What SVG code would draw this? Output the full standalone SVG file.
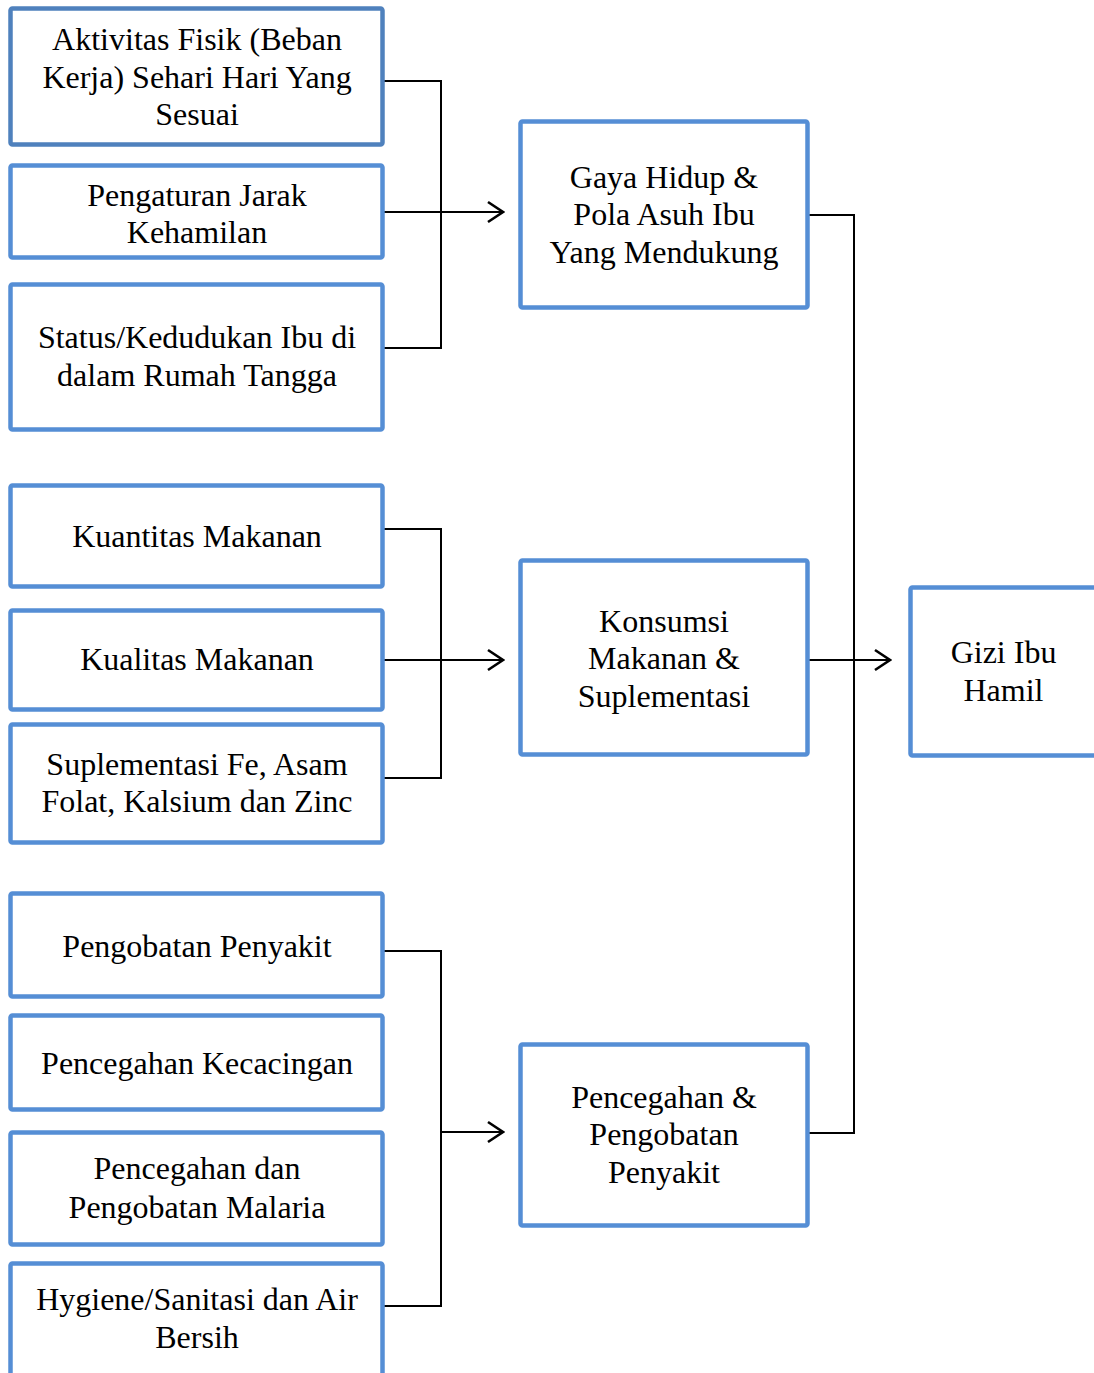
<svg xmlns="http://www.w3.org/2000/svg" width="1094" height="1373" viewBox="0 0 1094 1373">
<style>
.box{fill:#ffffff;stroke:#558ED5;stroke-width:4.5}
.dark{stroke:#4F81BD}
.t{font-family:"Liberation Serif","Times New Roman",serif;font-size:32px;fill:#000;text-anchor:middle}
.c{fill:none;stroke:#000;stroke-width:2}
</style>
<defs>
<marker id="ah" markerUnits="userSpaceOnUse" viewBox="-18 -12 20 24" markerWidth="20" markerHeight="24" refX="0" refY="0" orient="auto">
<path d="M-15,-10 L0,0 L-15,10" fill="none" stroke="#000" stroke-width="2.6"/>
</marker>
</defs>
<rect width="1094" height="1373" fill="#ffffff"/>
<g id="connectors">
<path class="c" d="M384,81 H441 V348 H384"/>
<path class="c" d="M384,212 H503" marker-end="url(#ah)"/>
<path class="c" d="M384,529 H441 V778 H384"/>
<path class="c" d="M384,660 H503" marker-end="url(#ah)"/>
<path class="c" d="M384,951 H441 V1306 H384"/>
<path class="c" d="M441,1132 H503" marker-end="url(#ah)"/>
<path class="c" d="M808,215 H854 V1133 H808"/>
<path class="c" d="M808,660 H890" marker-end="url(#ah)"/>
</g>
<g id="n1"><rect class="box dark" x="10.5" y="8.5" width="372" height="136" rx="2"/>
<text class="t" x="197" y="50">Aktivitas Fisik (Beban</text>
<text class="t" x="197" y="87.5">Kerja) Sehari Hari Yang</text>
<text class="t" x="197" y="125">Sesuai</text></g>
<g id="n2"><rect class="box" x="10.5" y="165.5" width="372" height="92" rx="2"/>
<text class="t" x="197" y="206">Pengaturan Jarak</text>
<text class="t" x="197" y="243">Kehamilan</text></g>
<g id="n3"><rect class="box" x="10.5" y="284.5" width="372" height="145" rx="2"/>
<text class="t" x="197" y="348">Status/Kedudukan Ibu di</text>
<text class="t" x="197" y="386">dalam Rumah Tangga</text></g>
<g id="n4"><rect class="box" x="10.5" y="485.5" width="372" height="101" rx="2"/>
<text class="t" x="197" y="547">Kuantitas Makanan</text></g>
<g id="n5"><rect class="box" x="10.5" y="610.5" width="372" height="99" rx="2"/>
<text class="t" x="197" y="670">Kualitas Makanan</text></g>
<g id="n6"><rect class="box" x="10.5" y="724.5" width="372" height="118" rx="2"/>
<text class="t" x="197" y="775">Suplementasi Fe, Asam</text>
<text class="t" x="197" y="812">Folat, Kalsium dan Zinc</text></g>
<g id="n7"><rect class="box" x="10.5" y="893.5" width="372" height="103" rx="2"/>
<text class="t" x="197" y="957">Pengobatan Penyakit</text></g>
<g id="n8"><rect class="box" x="10.5" y="1015.5" width="372" height="94" rx="2"/>
<text class="t" x="197" y="1074">Pencegahan Kecacingan</text></g>
<g id="n9"><rect class="box" x="10.5" y="1132.5" width="372" height="112" rx="2"/>
<text class="t" x="197" y="1179">Pencegahan dan</text>
<text class="t" x="197" y="1218">Pengobatan Malaria</text></g>
<g id="n10"><rect class="box" x="10.5" y="1263.5" width="372" height="130" rx="2"/>
<text class="t" x="197" y="1310">Hygiene/Sanitasi dan Air</text>
<text class="t" x="197" y="1348">Bersih</text></g>
<g id="n11"><rect class="box" x="520.5" y="121.5" width="287" height="186" rx="2"/>
<text class="t" x="664" y="188">Gaya Hidup &amp;</text>
<text class="t" x="664" y="225">Pola Asuh Ibu</text>
<text class="t" x="664" y="263">Yang Mendukung</text></g>
<g id="n12"><rect class="box" x="520.5" y="560.5" width="287" height="194" rx="2"/>
<text class="t" x="664" y="632">Konsumsi</text>
<text class="t" x="664" y="669">Makanan &amp;</text>
<text class="t" x="664" y="707">Suplementasi</text></g>
<g id="n13"><rect class="box" x="520.5" y="1044.5" width="287" height="181" rx="2"/>
<text class="t" x="664" y="1108">Pencegahan &amp;</text>
<text class="t" x="664" y="1145">Pengobatan</text>
<text class="t" x="664" y="1183">Penyakit</text></g>
<g id="n14"><rect class="box" x="910.5" y="587.5" width="186" height="168" rx="2"/>
<text class="t" x="1003.5" y="663">Gizi Ibu</text>
<text class="t" x="1003.5" y="701">Hamil</text></g>
</svg>
